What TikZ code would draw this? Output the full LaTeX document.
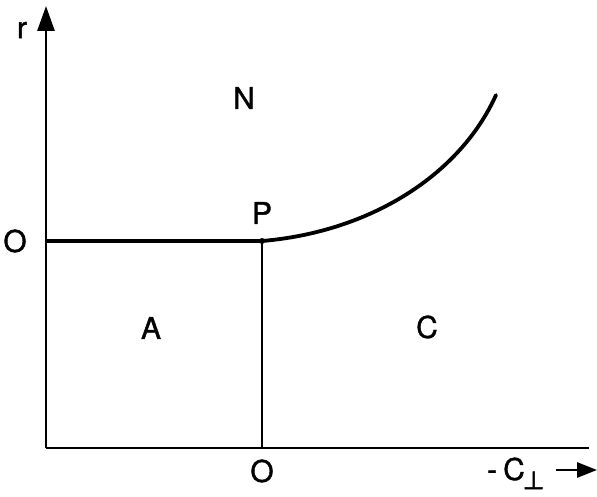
\documentclass[tikz,border=0pt]{standalone}
\usepackage{fontspec}
\setmainfont{TeX Gyre Heros}[FakeBold=1.2]
\newfontfamily\symfont{DejaVu Sans}[FakeBold=2]
\usetikzlibrary{arrows.meta}
\begin{document}
\begin{tikzpicture}[x=1pt,y=-1pt,
  axis/.style={line width=2.8pt},
  thick line/.style={line width=3.8pt},
  lbl/.style={font=\fontsize{30}{30}\selectfont, inner sep=0pt},
  bigtip/.style={-{Triangle[length=25pt,width=17pt]}}]
\useasboundingbox (0,0) rectangle (597,497);
\coordinate (orig) at (46,448);
\coordinate (top) at (46,6);
\coordinate (xend) at (589,448);
\coordinate (L) at (46,241);
\coordinate (P) at (262,241);
\coordinate (Pb) at (262,448);
\coordinate (E) at (496,95);
\draw[axis,bigtip] (orig) -- (top);
\draw[axis] (orig) -- (xend);
\draw[thick line] (L) -- (P);
\draw[axis] (P) -- (Pb);
\draw[thick line,line cap=round] (P) .. controls (370,232) and (460,175) .. (E);
\fill (P) circle (3pt);
\node[lbl] (r) at (22,30) {r};
\node[lbl] (O1) at (15,241) {O};
\node[lbl] (P1) at (262,213) {P};
\node[lbl] (N) at (244,98) {N};
\node[lbl] (A) at (151,328) {A};
\node[lbl] (C) at (427,327) {C};
\node[lbl] (O2) at (262,471) {O};
\node[lbl,anchor=base west] (CL) at (487,480) {-\hspace{6pt}C\hspace{-2pt}\raisebox{-9pt}{\symfont\fontsize{25}{25}\selectfont ⊥}};
\coordinate (a1) at (556,470);
\coordinate (a2) at (597,470);
\draw[axis,-{Triangle[length=20pt,width=15pt]}] (a1) -- (a2);
\end{tikzpicture}
\end{document}
